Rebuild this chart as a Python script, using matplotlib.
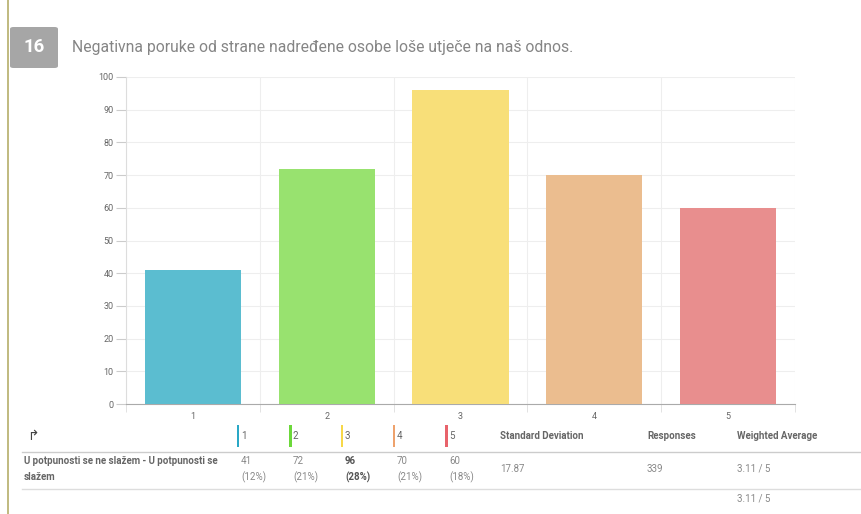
import matplotlib
matplotlib.use("Agg")
import matplotlib.pyplot as plt
from matplotlib.patches import Rectangle, FancyBboxPatch
from matplotlib.lines import Line2D

plt.rcParams['font.family'] = ['Roboto', 'DejaVu Sans']

categories = ["1", "2", "3", "4", "5"]
values = [41, 72, 96, 70, 60]
percents = ["(12%)", "(21%)", "(28%)", "(21%)", "(18%)"]
bar_colors = ["#5bbdd0", "#98e26f", "#f8df79", "#ebbd8f", "#e88e8e"]
mark_colors = ["#2aa8c6", "#6cd83a", "#f7d849", "#eea26d", "#e8636b"]
yticks = [0, 10, 20, 30, 40, 50, 60, 70, 80, 90, 100]
title_num = "16"
title = "Negativna poruke od strane nadređene osobe loše utječe na naš odnos."
row_label = ["U potpunosti se ne slažem - U potpunosti se", "slažem"]
std_dev = "17.87"
responses = "339"
weighted_avg = "3.11 / 5"

W, H = 862, 514
fig = plt.figure(figsize=(W / 100, H / 100), dpi=100)

def fx(x):
    return x / W

def fy(y):
    return 1 - y / H

# axes
ax = fig.add_axes([fx(126), fy(404), fx(795 - 126), (404 - 77) / H])
x = list(range(len(categories)))
ax.bar(x, values, width=0.72, color=bar_colors, zorder=3)
ax.set_xlim(-0.5, len(categories) - 0.5)
ax.set_ylim(0, 100)
ax.set_yticks(yticks)
ax.set_yticklabels([str(t) for t in yticks], fontsize=6.5, color="#666666")
ax.set_xticks(x)
ax.set_xticklabels(categories, fontsize=6.5, color="#666666")
ax.tick_params(axis="x", length=0, pad=6)
ax.tick_params(axis="y", length=7, color="#cccccc", pad=2)
bounds = [i - 0.5 for i in range(len(categories) + 1)]
ax.set_xticks(bounds, minor=True)
ax.tick_params(axis="x", which="minor", length=6, color="#dddddd")
ax.grid(True, axis="y", color="#eeeeee", linewidth=0.8, zorder=0)
ax.grid(True, axis="x", which="minor", color="#eeeeee", linewidth=0.8, zorder=0)
ax.grid(False, axis="x", which="major")
for s in ["top", "right"]:
    ax.spines[s].set_visible(False)
ax.spines["left"].set_color("#dddddd")
ax.spines["bottom"].set_color("#aaaaaa")
ax.spines["left"].set_linewidth(0.8)

# left olive line
fig.add_artist(Line2D([fx(8), fx(8)], [fy(0), fy(514)], color="#b5ae6a", linewidth=1.2, transform=fig.transFigure))

# number box
fig.add_artist(FancyBboxPatch((fx(10), fy(68)), fx(48), (68 - 27) / H,
                              boxstyle="round,pad=0,rounding_size=0.004",
                              facecolor="#a6a6a6", edgecolor="none", transform=fig.transFigure))
fig.text(fx(34), fy(47.5), title_num, ha="center", va="center", fontsize=13.5,
         fontweight="bold", color="white")
fig.text(fx(72), fy(47.5), title, ha="left", va="center", fontsize=11.3, color="#858585")

# table header
fs = 7
hy = fy(436)
fig.text(fx(27), hy, "↱", ha="left", va="center", fontsize=10, color="#444444",
         family=["DejaVu Sans"])
col_x = [237, 289, 341, 393, 445]
for cx, c, lab in zip(col_x, mark_colors, categories):
    fig.add_artist(Rectangle((fx(cx), fy(447)), 2.5 / W, 22 / H, facecolor=c,
                             edgecolor="none", transform=fig.transFigure))
    fig.text(fx(cx + 4), hy, lab, ha="left", va="center", fontsize=fs, color="#666666")
hdr_kw = dict(ha="left", va="center", fontsize=fs, color="#666666", fontweight="bold")
fig.text(fx(500), hy, "Standard Deviation", **hdr_kw)
fig.text(fx(647), hy, "Responses", **hdr_kw)
fig.text(fx(737), hy, "Weighted Average", **hdr_kw)

fig.add_artist(Line2D([fx(22), fx(862)], [fy(452), fy(452)], color="#cccccc", linewidth=1,
                      transform=fig.transFigure))
fig.add_artist(Line2D([fx(22), fx(862)], [fy(489), fy(489)], color="#dddddd", linewidth=1,
                      transform=fig.transFigure))

# data row
fig.text(fx(24), fy(461.5), row_label[0], ha="left", va="center", fontsize=fs,
         color="#666666", fontweight="bold")
fig.text(fx(24), fy(477), row_label[1], ha="left", va="center", fontsize=fs,
         color="#666666", fontweight="bold")
best = values.index(max(values))
for i, (cx, v, p) in enumerate(zip(col_x, values, percents)):
    w = "bold" if i == best else "normal"
    col = "#555555" if i == best else "#888888"
    fig.text(fx(cx + 4), fy(461.5), str(v), ha="left", va="center", fontsize=fs, color=col, fontweight=w)
    fig.text(fx(cx + 4), fy(477), p, ha="left", va="center", fontsize=fs, color=col, fontweight=w)
fig.text(fx(500), fy(469), std_dev, ha="left", va="center", fontsize=fs, color="#888888")
fig.text(fx(647), fy(469), responses, ha="left", va="center", fontsize=fs, color="#888888")
fig.text(fx(737), fy(469), weighted_avg, ha="left", va="center", fontsize=fs, color="#888888")
fig.text(fx(737), fy(499), weighted_avg, ha="left", va="center", fontsize=fs, color="#888888")

fig.savefig("out.png", dpi=100, facecolor="white")
